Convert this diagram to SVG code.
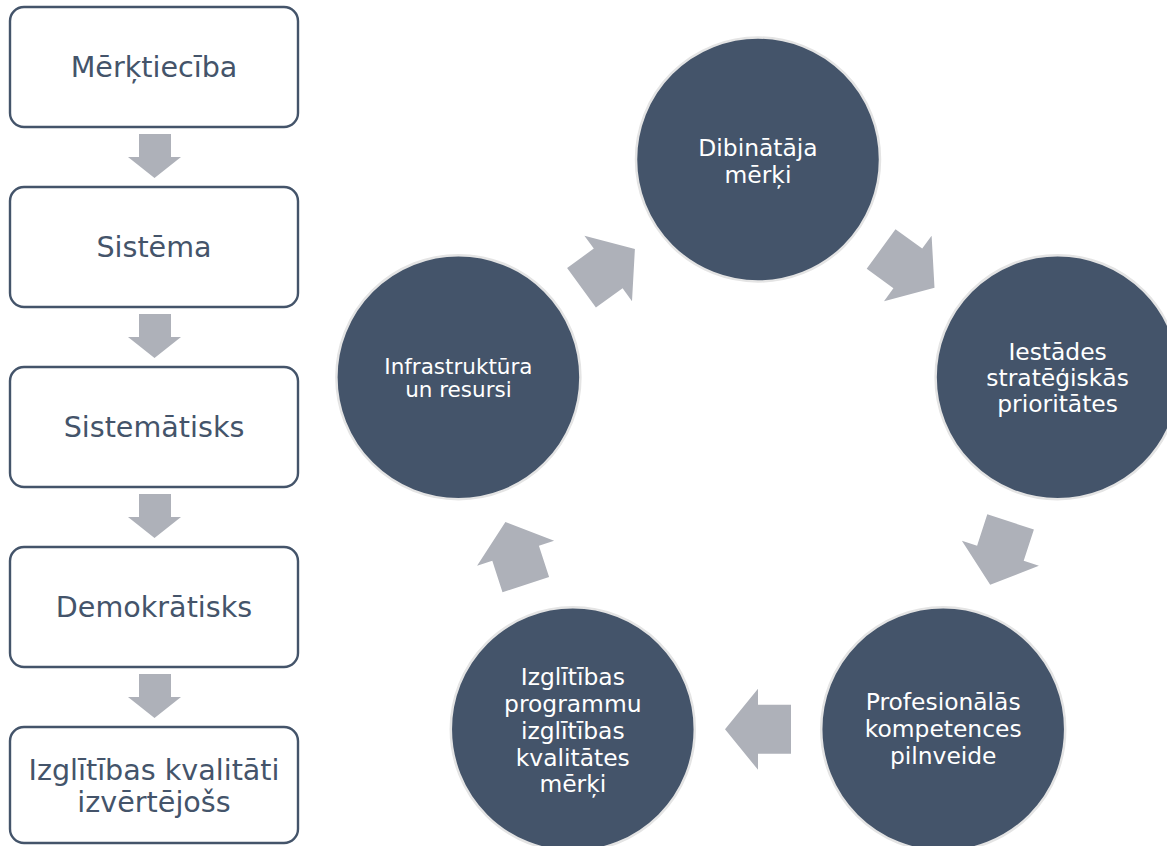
<svg xmlns="http://www.w3.org/2000/svg" width="1167" height="846" viewBox="0 0 1167 846">
<style>
.box{fill:#ffffff;stroke:#44546a;stroke-width:2.4}
.bt{font-family:"DejaVu Sans",Verdana,sans-serif;font-size:28.6px;fill:#44546a;text-anchor:middle}
.circ{fill:#44546a;stroke:#e4e4e4;stroke-width:2.5}
.ct{font-family:"DejaVu Sans",Verdana,sans-serif;font-size:23.4px;fill:#ffffff;text-anchor:middle}
.ct2{font-family:"DejaVu Sans",Verdana,sans-serif;font-size:21.5px;fill:#ffffff;text-anchor:middle}
.arr{fill:#aeb1b9}
</style>
<defs>
<polygon id="darr" points="139,134 171,134 171,157 181,157 154.5,178 128,157 139,157"/>
<polygon id="carr" points="-33,-24.5 0,-24.5 0,-40.5 33,0 0,40.5 0,24.5 -33,24.5"/>
</defs>
<rect width="1167" height="846" fill="#ffffff"/>

<g id="connectors">
<use href="#darr" class="arr"/>
<use href="#darr" class="arr" transform="translate(0,180)"/>
<use href="#darr" class="arr" transform="translate(0,360)"/>
<use href="#darr" class="arr" transform="translate(0,540)"/>
<use href="#carr" class="arr" transform="translate(907.8,268.4) rotate(36)"/>
<use href="#carr" class="arr" transform="translate(1000.4,553.3) rotate(108)"/>
<use href="#carr" class="arr" transform="translate(758,729.3) rotate(180)"/>
<use href="#carr" class="arr" transform="translate(515.6,553.3) rotate(252)"/>
<use href="#carr" class="arr" transform="translate(608.2,268.4) rotate(324)"/>
</g>

<g id="box1"><rect class="box" x="10" y="7" width="288" height="120" rx="14"/><text class="bt" x="154" y="77">Mērķtiecība</text></g>
<g id="box2"><rect class="box" x="10" y="187" width="288" height="120" rx="14"/><text class="bt" x="154" y="257">Sistēma</text></g>
<g id="box3"><rect class="box" x="10" y="367" width="288" height="120" rx="14"/><text class="bt" x="154" y="437">Sistemātisks</text></g>
<g id="box4"><rect class="box" x="10" y="547" width="288" height="120" rx="14"/><text class="bt" x="154" y="617">Demokrātisks</text></g>
<g id="box5"><rect class="box" x="10" y="727" width="288" height="116" rx="14"/><text class="bt" x="154" y="780">Izglītības kvalitāti</text><text class="bt" x="154" y="812">izvērtējošs</text></g>

<g id="c1"><circle class="circ" cx="758" cy="159.5" r="122"/><text class="ct" x="758" y="156">Dibinātāja</text><text class="ct" x="758" y="183">mērķi</text></g>
<g id="c2"><circle class="circ" cx="1057.6" cy="377.2" r="122"/><text class="ct" x="1057.6" y="360">Iestādes</text><text class="ct" x="1057.6" y="386">stratēģiskās</text><text class="ct" x="1057.6" y="412">prioritātes</text></g>
<g id="c3"><circle class="circ" cx="943.2" cy="729.3" r="122"/><text class="ct" x="943.2" y="710">Profesionālās</text><text class="ct" x="943.2" y="737">kompetences</text><text class="ct" x="943.2" y="764">pilnveide</text></g>
<g id="c4"><circle class="circ" cx="572.8" cy="729.3" r="122"/><text class="ct" x="572.8" y="685">Izglītības</text><text class="ct" x="572.8" y="712">programmu</text><text class="ct" x="572.8" y="739">izglītības</text><text class="ct" x="572.8" y="766">kvalitātes</text><text class="ct" x="572.8" y="792">mērķi</text></g>
<g id="c5"><circle class="circ" cx="458.4" cy="377.2" r="122"/><text class="ct2" x="458.4" y="374">Infrastruktūra</text><text class="ct2" x="458.4" y="397">un resursi</text></g>
</svg>
